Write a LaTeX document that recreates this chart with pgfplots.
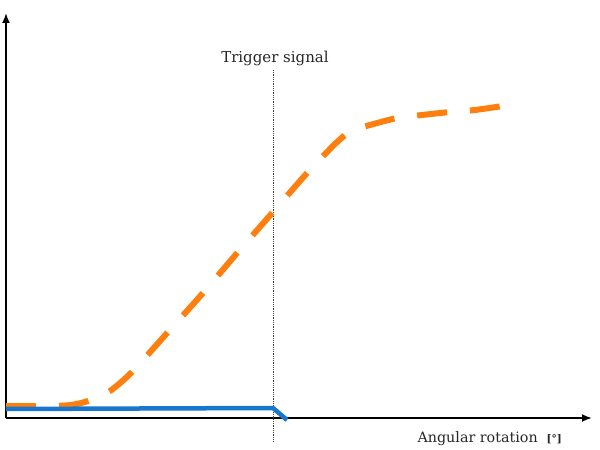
\documentclass[border=0pt]{standalone}
\usepackage{pgfplots}
\pgfplotsset{compat=1.18}
\usepackage{fontspec}
\setmainfont{DejaVu Serif}
\usetikzlibrary{arrows.meta}
\definecolor{curveorange}{RGB}{255,127,14}
\definecolor{curveblue}{RGB}{24,118,204}
\begin{document}
\begin{tikzpicture}
\begin{axis}[
  scale only axis, x=1pt, y=1pt,
  xmin=0, xmax=584, ymin=0, ymax=403,
  hide axis, clip=false,
]
% page frame
\path (axis cs:-6,-32) rectangle (axis cs:594,418);
% axes
\draw[line width=1.8pt,-{Latex[length=10pt,width=8pt]}] (axis cs:0,0) -- (axis cs:586,0);
\draw[line width=1.8pt,-{Latex[length=10pt,width=8pt]}] (axis cs:0,0) -- (axis cs:0,405);
% trigger line
\draw[black!75, densely dotted, line width=0.8pt] (axis cs:267,348) -- (axis cs:267,-24);
\node[font=\fontsize{15}{18}\selectfont, text=black!85, anchor=base] at (axis cs:269,355) {Trigger signal};
\node[font=\fontsize{14.3}{17}\selectfont, text=black!85, anchor=base west] at (axis cs:408,-25) {Angular rotation};
\node[font=\fontsize{10.5}{12}\selectfont\bfseries, text=black!85, anchor=base west] at (axis cs:537,-25) {[°]};
\addplot[curveorange, line width=6pt, dash pattern=on 30pt off 23pt, smooth, tension=0.4] coordinates {
(0,12) (45,12) (65,13) (82,17) (104,27) (126,46) (162,86) (197,125) (232,166) (267,206) (302,246) (330,275) (345,287) (364,293) (391,300) (416,303) (444,306) (469,308) (497,312)
};
\addplot[curveblue, line width=4.5pt] coordinates {
(0,9) (267,10) (281,-2)
};
\end{axis}
\end{tikzpicture}
\end{document}
